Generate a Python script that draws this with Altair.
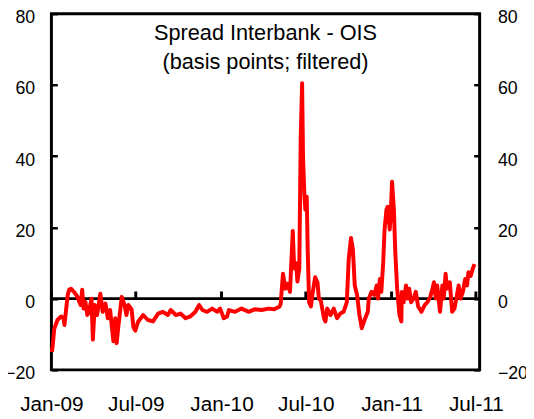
import altair as alt
import pandas as pd

dates = [
    "2009-01-02", "2009-01-04", "2009-01-07", "2009-01-14", "2009-01-22", "2009-01-27", "2009-01-29",
    "2009-02-01", "2009-02-05", "2009-02-08", "2009-02-12", "2009-02-19", "2009-02-26",
    "2009-03-02", "2009-03-05", "2009-03-08", "2009-03-11", "2009-03-15", "2009-03-19", "2009-03-22", "2009-03-28", "2009-03-31",
    "2009-04-04", "2009-04-09", "2009-04-16", "2009-04-21", "2009-04-27",
    "2009-05-02", "2009-05-07", "2009-05-14", "2009-05-18", "2009-05-21", "2009-05-25",
    "2009-06-01", "2009-06-07", "2009-06-11", "2009-06-15", "2009-06-22", "2009-06-26", "2009-06-30",
    "2009-07-06", "2009-07-17", "2009-07-27", "2009-08-07", "2009-08-18", "2009-08-28",
    "2009-09-08", "2009-09-14", "2009-09-25", "2009-10-05", "2009-10-16", "2009-10-26",
    "2009-11-06", "2009-11-14", "2009-11-21", "2009-12-01", "2009-12-12", "2009-12-23", "2009-12-29",
    "2010-01-06", "2010-01-13", "2010-01-17", "2010-01-30", "2010-02-13", "2010-02-28",
    "2010-03-13", "2010-03-28", "2010-04-12", "2010-04-24",
    "2010-05-05", "2010-05-08", "2010-05-13", "2010-05-18", "2010-05-22", "2010-05-28",
    "2010-06-03", "2010-06-06", "2010-06-10", "2010-06-13", "2010-06-17", "2010-06-20", "2010-06-23", "2010-06-25", "2010-06-28", "2010-06-30",
    "2010-07-03", "2010-07-05", "2010-07-08", "2010-07-12", "2010-07-16", "2010-07-21", "2010-07-26", "2010-07-29",
    "2010-08-02", "2010-08-09", "2010-08-12", "2010-08-16", "2010-08-23", "2010-08-30",
    "2010-09-06", "2010-09-13", "2010-09-20", "2010-09-27",
    "2010-10-01", "2010-10-06", "2010-10-10", "2010-10-14", "2010-10-19", "2010-10-24", "2010-10-29",
    "2010-11-04", "2010-11-11", "2010-11-13", "2010-11-19", "2010-11-25", "2010-11-30",
    "2010-12-03", "2010-12-07", "2010-12-10", "2010-12-14", "2010-12-17", "2010-12-21", "2010-12-24", "2010-12-28", "2010-12-30",
    "2011-01-02", "2011-01-06", "2011-01-09", "2011-01-13", "2011-01-18", "2011-01-22", "2011-01-23", "2011-01-27",
    "2011-02-01", "2011-02-05", "2011-02-08", "2011-02-12", "2011-02-17", "2011-02-22", "2011-02-27",
    "2011-03-06", "2011-03-13", "2011-03-19", "2011-03-25", "2011-03-30",
    "2011-04-02", "2011-04-06", "2011-04-09", "2011-04-15", "2011-04-20", "2011-04-23", "2011-04-27", "2011-04-30",
    "2011-05-06", "2011-05-11", "2011-05-16", "2011-05-20", "2011-05-25", "2011-05-29",
    "2011-06-03", "2011-06-08", "2011-06-12", "2011-06-15", "2011-06-20", "2011-06-24", "2011-06-28",
]

spread = [
    -15, -13, -8.5, -6, -5, -5.5, -7.4,
    -3.7, 1, 2.5, 2.8, 1.8, 0.5,
    -1, -1.8, 2.5, -2.8, -0.9, -4.6, -4, 0, -11.5,
    -1.8, -4.6, 1.4, -3.7, -1.4,
    -5.5, -3.2, -12, -5.5, -12.5, -7.4,
    0.5, -1.8, -4.6, -1.8, -3, -8, -9,
    -6.5, -4.6, -6, -6.4, -4.2, -3.7,
    -4.6, -3.2, -4.6, -4.2, -5.5, -5,
    -3.7, -1.8, -3.2, -3.7, -2.8, -3.7, -2.8,
    -5.5, -5, -3.2, -3.7, -2.8, -3.7,
    -3, -3.2, -2.8, -3,
    -2.3, -1.5, 7, 2.8, 4.2, 1.9,
    19, 8.5, 10, 4.8, 8.5, 45, 60.5, 40, 28.6, 25,
    28.6, 13.8, -1, -2.2, 1.9, 6, 4.6, 0,
    -0.5, -5.5, -6.4, -2.8, -4.6, -2.8,
    -5.5, -4.2, -3.7, -1,
    11, 17, 13.8, 3.7, 1, -4.6, -8.3,
    -6, -3.7, 0, 1.9, 1, 3.7,
    0, 5.5, 1.9, 10, 19.4, 25, 25.8, 19.4, 23,
    32.8, 25, 13, 2.8, -4.6, -6.4, 1.9, -1,
    3.7, 0, 2.8, -1, 0, 1.9, -2.2,
    -3.7, -1.8, -1, 0.5, 2.8,
    4.6, 0, 3.7, -3.7, 3.7, 0, 7, 2.8,
    4.6, -3.7, -2.8, 0, 3.7, 0,
    1.9, 5.5, 3.7, 7.4, 6.4, 8.3, 9.7,
]

tick_dates = ["2009-01-01", "2009-07-01", "2010-01-01", "2010-07-01", "2011-01-01", "2011-07-01"]
y_ticks = [-20, 0, 20, 40, 60, 80]
title_lines = ["Spread Interbank - OIS", "(basis points; filtered)"]

FONT = "Liberation Sans"

df = pd.DataFrame({"date": dates, "spread": spread})
ticks_df = pd.DataFrame({"date": tick_dates, "lo": [0] * len(tick_dates), "hi": [2.0] * len(tick_dates)})
zero_df = pd.DataFrame({"v": [0]})
title_df = pd.DataFrame({"t": [0]})

x_scale = alt.Scale(
    domain=[alt.DateTime(year=2009, month=1, date=1), alt.DateTime(year=2011, month=7, date=9)],
    nice=False,
)
y_scale = alt.Scale(domain=[-20, 80], nice=False)

x_axis = alt.Axis(
    values=[alt.DateTime(year=int(d[:4]), month=int(d[5:7]), date=1) for d in tick_dates],
    labelExpr="timeFormat(datum.value, '%b-%y')",
    ticks=False, tickSize=0, domain=False, grid=False,
    labelFont=FONT, labelFontSize=21, labelColor="black",
    labelPadding=24, labelFlush=False, labelOverlap=False, title=None,
)

left_axis = alt.Axis(
    orient="left", values=y_ticks, offset=-6, tickSize=6, tickWidth=2.5, tickColor="black",
    domain=False, grid=False, labelFont=FONT, labelFontSize=18, labelColor="black",
    labelPadding=17, labelOffset=4, title=None,
)
right_axis = alt.Axis(
    orient="right", values=y_ticks, offset=-6, tickSize=6, tickWidth=2.5, tickColor="black",
    domain=False, grid=False, labelFont=FONT, labelFontSize=18, labelColor="black",
    labelPadding=18, labelOffset=4, title=None,
)

zero = alt.Chart(zero_df).mark_rule(color="black", strokeWidth=3).encode(
    y=alt.Y("v:Q", scale=y_scale, axis=right_axis)
)

xticks = alt.Chart(ticks_df).mark_rule(color="black", strokeWidth=3).encode(
    x=alt.X("date:T", scale=x_scale, axis=x_axis),
    y=alt.Y("lo:Q", scale=y_scale, axis=None),
    y2="hi:Q",
)

line = alt.Chart(df).mark_line(color="#FF0000", strokeWidth=4, strokeJoin="round").encode(
    x=alt.X("date:T", scale=x_scale, axis=x_axis),
    y=alt.Y("spread:Q", scale=y_scale, axis=left_axis),
)

title = alt.Chart(title_df).mark_text(
    text=title_lines, font=FONT, fontSize=22, lineHeight=29, align="center",
    baseline="alphabetic", color="black",
).encode(x=alt.value(217), y=alt.value(27))

chart = (
    alt.layer(zero, xticks, line, title)
    .resolve_axis(y="independent")
    .properties(
        width=434, height=361,
        autosize=alt.AutoSizeParams(type="none"),
        padding={"left": 44, "top": 3, "right": 47, "bottom": 44},
        background="white",
    )
    .configure_view(stroke="black", strokeWidth=3)
)

chart.save("out.html", embed_options={"renderer": "svg", "actions": False})
